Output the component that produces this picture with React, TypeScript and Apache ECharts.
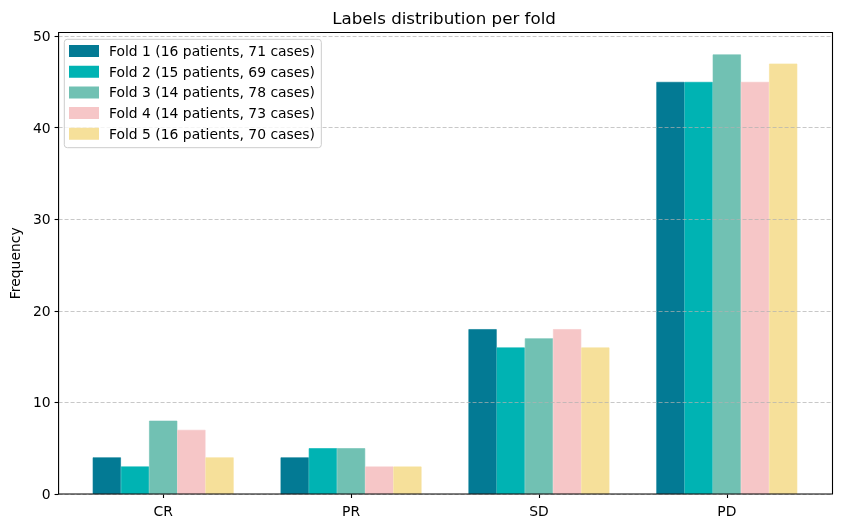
import React, { useEffect, useRef } from "react";
import * as echarts from "echarts";

const categories = ["CR", "PR", "SD", "PD"];
const foldNames = [
  "Fold 1 (16 patients, 71 cases)",
  "Fold 2 (15 patients, 69 cases)",
  "Fold 3 (14 patients, 78 cases)",
  "Fold 4 (14 patients, 73 cases)",
  "Fold 5 (16 patients, 70 cases)",
];
const fold1 = [4, 4, 18, 45];
const fold2 = [3, 5, 16, 45];
const fold3 = [8, 5, 17, 48];
const fold4 = [7, 3, 18, 45];
const fold5 = [4, 3, 16, 47];
const foldValues = [fold1, fold2, fold3, fold4, fold5];
const colors = ["#037A94", "#00B3B3", "#71C1B3", "#F6C6C7", "#F6E09A"];
const yMax = 50.4;

const FONT = "DejaVu Sans";

export default function App() {
  const ref = useRef<HTMLDivElement>(null);
  useEffect(() => {
    if (!ref.current) return;
    const chart = echarts.init(ref.current, null, { renderer: "svg" });
    const frameLeft = 57.5;
    const frameTop = 32.5;
    const frameW = 775;
    const frameH = 461.5;
    const unit = frameW / 4.125;
    const innerLeft = frameLeft + 0.0625 * unit;
    const innerW = unit * 4;
    chart.setOption({
      animation: false,
      textStyle: { fontFamily: FONT },
      title: {
        text: "Labels distribution per fold",
        left: 444,
        textAlign: "center",
        top: 8,
        padding: 0,
        textStyle: { fontFamily: FONT, fontSize: 16.7, fontWeight: "normal", color: "#000", lineHeight: 20 },
      },
      legend: {
        orient: "vertical",
        left: 64.3,
        top: 39.3,
        itemWidth: 28,
        itemHeight: 10,
        itemGap: 6.7,
        padding: [4.7, 6.3, 6.9, 4.7],
        backgroundColor: "rgba(255,255,255,0.8)",
        borderColor: "#cccccc",
        borderWidth: 1,
        borderRadius: 3,
        icon: "rect",
        data: foldNames,
        textStyle: { fontFamily: FONT, fontSize: 13.9, color: "#000", lineHeight: 14, padding: [0, 0, 0, 6] },
        z: 20,
      },
      grid: [
        {
          left: frameLeft,
          top: frameTop,
          width: frameW,
          height: frameH,
          show: true,
          z: 12,
          borderColor: "#000",
          borderWidth: 1.1,
          backgroundColor: "transparent",
          containLabel: false,
        },
        {
          left: innerLeft,
          top: frameTop,
          width: innerW,
          height: frameH,
          containLabel: false,
        },
      ],
      xAxis: [
        {
          gridIndex: 0,
          type: "value",
          min: 0,
          max: 1,
          show: false,
        },
        {
          gridIndex: 1,
          type: "category",
          data: categories,
          axisLine: { show: false },
          axisTick: { show: true, alignWithLabel: true, length: 4, lineStyle: { color: "#000", width: 1.1 } },
          axisLabel: { color: "#000", fontFamily: FONT, fontSize: 13.9, margin: 10 },
          splitLine: { show: false },
        },
      ],
      yAxis: [
        {
          gridIndex: 0,
          type: "value",
          min: 0,
          max: yMax,
          interval: 10,
          z: 10,
          name: "Frequency",
          nameLocation: "middle",
          nameGap: 35,
          nameTextStyle: { fontFamily: FONT, fontSize: 13.9, color: "#000" },
          axisLine: { show: false },
          axisTick: { show: true, length: 4, lineStyle: { color: "#000", width: 1.1 } },
          axisLabel: { color: "#000", fontFamily: FONT, fontSize: 13.9, margin: 8 },
          splitLine: {
            show: true,
            lineStyle: { color: "rgba(176,176,176,0.7)", type: [4, 2], width: 1 },
          },
        },
        {
          gridIndex: 1,
          type: "value",
          min: 0,
          max: yMax,
          show: false,
        },
      ],
      series: foldValues.map((vals, i) => ({
        name: foldNames[i],
        type: "bar",
        xAxisIndex: 1,
        yAxisIndex: 1,
        data: vals,
        barWidth: 0.15 * unit,
        barGap: "0%",
        itemStyle: { color: colors[i], borderColor: colors[i], borderWidth: 0.6 },
        z: 2,
      })),
    });
    return () => chart.dispose();
  }, []);
  return <div ref={ref} style={{ position: "fixed", left: 0, top: 0, width: 841, height: 528 }} />;
}
